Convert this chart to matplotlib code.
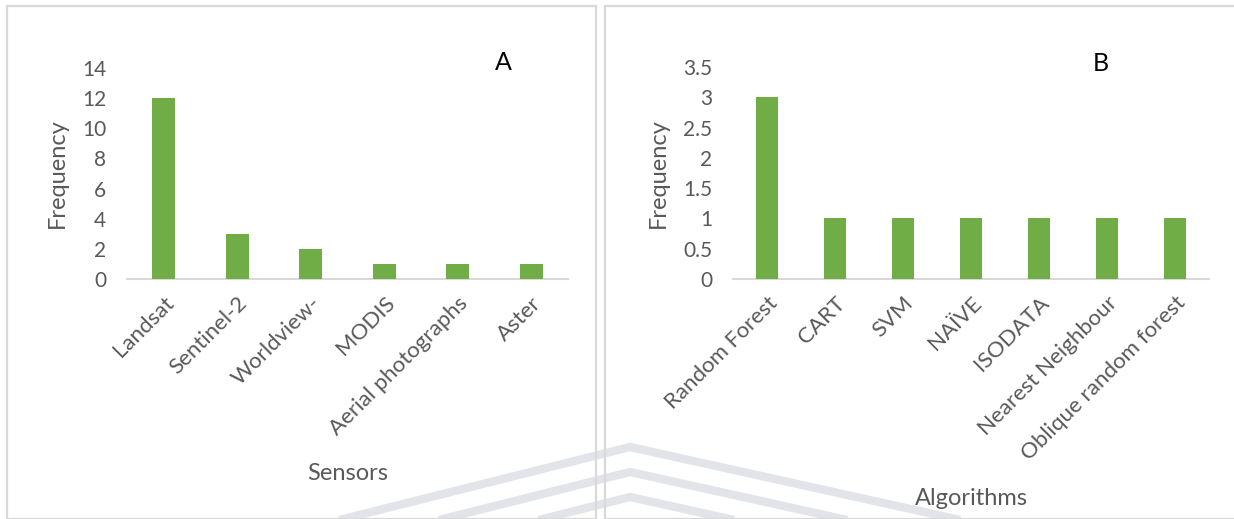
import matplotlib.pyplot as plt
from matplotlib.lines import Line2D
from matplotlib.patches import Rectangle

sensors = ["Landsat", "Sentinel-2", "Worldview-", "MODIS", "Aerial photographs", "Aster"]
sensor_freq = [12, 3, 2, 1, 1, 1]

algorithms = ["Random Forest", "CART", "SVM", "NAÏVE", "ISODATA",
              "Nearest Neighbour", "Oblique random forest"]
algo_freq = [3, 1, 1, 1, 1, 1, 1]

green = '#70AD47'
grey_txt = '#595959'
grid_c = '#D9D9D9'

plt.rcParams['font.family'] = ['Lato', 'DejaVu Sans']

W, H = 1234, 519
fig = plt.figure(figsize=(W / 100, H / 100), dpi=100)


def fx(px):
    return px / W


def fy(py):
    return 1 - py / H


# panel frames
fig.add_artist(Rectangle((fx(6.5), fy(519)), fx(596 - 6.5), fy(5.5) - fy(519),
                         fill=False, edgecolor=grid_c, lw=1.6, transform=fig.transFigure))
fig.add_artist(Rectangle((fx(605), fy(519)), fx(1240 - 605), fy(5.5) - fy(519),
                         fill=False, edgecolor=grid_c, lw=1.6, transform=fig.transFigure))

# faint chevron watermark at the bottom
for k in range(3):
    py = 447 + 25 * k
    fig.add_artist(Line2D([fx(200), fx(630), fx(1010)],
                          [fy(py + 108), fy(py), fy(py + 84)],
                          color='#c9cad4', lw=6, alpha=0.5,
                          solid_capstyle='butt', transform=fig.transFigure, zorder=0))


def panel(rect, cats, vals, ymax, yticks, ytl, letter, letter_xy, xlab, xlab_y):
    ax = fig.add_axes(rect)
    ax.set_facecolor('none')
    x = range(len(cats))
    ax.bar(x, vals, width=0.31, color=green, zorder=3)
    ax.set_xlim(-0.5, len(cats) - 0.5)
    ax.set_ylim(0, ymax)
    ax.set_yticks(yticks)
    ax.set_yticklabels(ytl)
    ax.set_xticks(list(x))
    ax.set_xticklabels(cats, rotation=45, ha='right', rotation_mode='anchor')
    for s in ['top', 'right', 'left']:
        ax.spines[s].set_visible(False)
    ax.spines['bottom'].set_color(grid_c)
    ax.spines['bottom'].set_linewidth(1.5)
    ax.tick_params(axis='y', length=0, pad=15, labelsize=15, labelcolor=grey_txt)
    ax.tick_params(axis='x', length=0, pad=10, labelsize=16, labelcolor=grey_txt)
    ax.set_ylabel('Frequency', fontsize=17, color=grey_txt)
    ax.yaxis.set_label_coords(-0.157, 0.5)
    ax.yaxis.label.set_va('center')
    ax.set_xlabel(xlab, fontsize=17, color=grey_txt)
    ax.xaxis.label.set_va('center')
    ax.xaxis.set_label_coords(0.5, xlab_y)
    ax.text(letter_xy[0], letter_xy[1], letter, transform=ax.transAxes,
            fontsize=18, color='black', ha='center', va='center')
    return ax


panel([fx(127), fy(279), fx(568 - 127), fy(68) - fy(279)], sensors, sensor_freq,
      14, list(range(0, 15, 2)), [str(v) for v in range(0, 15, 2)],
      'A', ((503 - 127) / 441, (279 - 63) / 211), 'Sensors', (279 - 473) / 211)

b_ticks = [0, 0.5, 1, 1.5, 2, 2.5, 3, 3.5]
panel([fx(733), fy(279), fx(1209 - 733), fy(67) - fy(279)], algorithms, algo_freq,
      3.5, b_ticks, ['0', '0.5', '1', '1.5', '2', '2.5', '3', '3.5'],
      'B', ((1101 - 733) / 476, (279 - 63) / 212), 'Algorithms', (279 - 499) / 212)

plt.savefig('out.png', dpi=100)
